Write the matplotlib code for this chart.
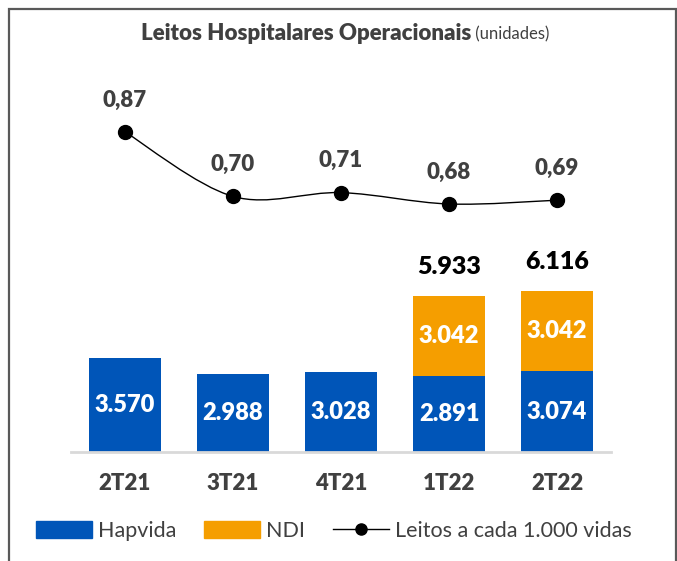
import numpy as np
import matplotlib.pyplot as plt
from matplotlib.path import Path
from matplotlib.patches import PathPatch, Patch, Rectangle
from matplotlib.lines import Line2D

plt.rcParams['font.family'] = ['Lato', 'DejaVu Sans']

# dados
trimestres = ['2T21', '3T21', '4T21', '1T22', '2T22']
hapvida = [3570, 2988, 3028, 2891, 3074]
ndi = [0, 0, 0, 3042, 3042]
totais = ['', '', '', '5.933', '6.116']
leitos_vidas = [0.87, 0.70, 0.71, 0.68, 0.69]
rotulos_hap = ['3.570', '2.988', '3.028', '2.891', '3.074']
rotulos_ndi = ['', '', '', '3.042', '3.042']
rotulos_linha = ['0,87', '0,70', '0,71', '0,68', '0,69']

azul = '#0055b8'
laranja = '#f59e00'
cinza = '#404040'
peso = 'heavy'

fig = plt.figure(figsize=(6.77, 5.61), dpi=100)
W, H = 677, 561
ax = fig.add_axes([71 / W, (H - 452) / H, 540 / W, 394 / H])

x = np.arange(len(trimestres))
ax.bar(x, hapvida, width=0.67, color=azul, zorder=2)
ax.bar(x, ndi, width=0.67, bottom=hapvida, color=laranja, zorder=2)

for i in range(len(x)):
    ax.text(x[i], hapvida[i] / 2, rotulos_hap[i], ha='center', va='center',
            color='white', fontsize=17, fontweight=peso)
    if rotulos_ndi[i]:
        ax.text(x[i], hapvida[i] + ndi[i] / 2, rotulos_ndi[i], ha='center', va='center',
                color='white', fontsize=17, fontweight=peso)
    if totais[i]:
        ax.text(x[i], hapvida[i] + ndi[i] + 1100, totais[i], ha='center', va='center',
                color='black', fontsize=18, fontweight=peso)

ax.set_xlim(-0.5, 4.5)
ax.set_ylim(0, 15000)
ax.set_yticks([])
ax.set_xticks(x)
ax.set_xticklabels(trimestres, fontsize=16, fontweight=peso, color=cinza)
ax.tick_params(axis='x', length=0, pad=15)
for s in ['top', 'right', 'left']:
    ax.spines[s].set_visible(False)
ax.spines['bottom'].set_color('#d9d9d9')
ax.spines['bottom'].set_linewidth(2)

# linha suavizada (catmull-rom -> bezier)
ax2 = ax.twinx()
ax2.set_ylim(0.026, 1.065)
ax2.axis('off')
pts = np.column_stack([x, leitos_vidas]).astype(float)
ext = np.vstack([pts[0], pts, pts[-1]])
verts = [tuple(pts[0])]
codes = [Path.MOVETO]
for i in range(1, len(ext) - 2):
    p0, p1, p2, p3 = ext[i - 1], ext[i], ext[i + 1], ext[i + 2]
    c1 = p1 + (p2 - p0) / 6
    c2 = p2 - (p3 - p1) / 6
    verts += [tuple(c1), tuple(c2), tuple(p2)]
    codes += [Path.CURVE4] * 3
ax2.add_patch(PathPatch(Path(verts, codes), facecolor='none', edgecolor='black', lw=1.0, zorder=3))
ax2.plot(x, leitos_vidas, 'o', color='black', markersize=10, zorder=4)
for i in range(len(x)):
    ax2.text(x[i], leitos_vidas[i] + 0.084, rotulos_linha[i], ha='center', va='center',
             color=cinza, fontsize=16, fontweight=peso)

# titulo: parte em negrito + "(unidades)" logo depois
ty = (H - 34) / H
t1 = fig.text(0, ty, 'Leitos Hospitalares Operacionais', ha='left', va='center',
              fontsize=16, fontweight=peso, color=cinza)
t2 = fig.text(0, ty, ' (unidades)', ha='left', va='center', fontsize=12, color=cinza)
r = fig.canvas.get_renderer()
w1 = t1.get_window_extent(r).width
w2 = t2.get_window_extent(r).width
x0 = 345 - (w1 + w2) / 2
t1.set_x(x0 / W)
t2.set_x((x0 + w1) / W)

# legenda
handles = [Patch(color=azul), Patch(color=laranja),
           Line2D([], [], color='black', lw=1, marker='o', markersize=8)]
fig.legend(handles, ['Hapvida', 'NDI', 'Leitos a cada 1.000 vidas'],
           loc='center', bbox_to_anchor=(334 / W, (H - 531) / H), ncol=3,
           frameon=False, fontsize=15.5, handlelength=2.6, handleheight=0.8,
           handletextpad=0.27, columnspacing=1.3, labelcolor=cinza)

# moldura
fig.add_artist(Rectangle((9 / W, -0.05), 667 / W, 1.05 - 9 / H, transform=fig.transFigure,
                         fill=False, edgecolor='#595959', lw=1.6))

fig.savefig('out.png', dpi=100)
